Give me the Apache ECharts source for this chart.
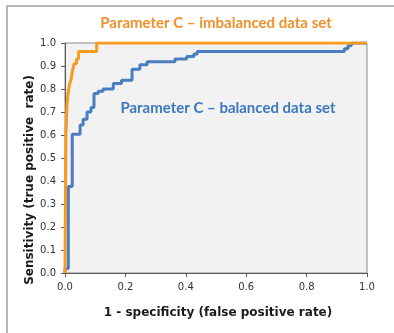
<!DOCTYPE html>
<html>
<head>
<meta charset="utf-8">
<script src="https://cdn.jsdelivr.net/npm/echarts@6/dist/echarts.min.js"></script>
<style>
  html, body { margin: 0; padding: 0; background: #fff; }
  #main { width: 394px; height: 333px; }
</style>
</head>
<body>
<div id="main"></div>
<script>
// ROC points (fpr, tpr) - right end of each horizontal run
var imbalancedFpr = [0, 0.003, 0.006, 0.010, 0.015, 0.020, 0.025, 0.030, 0.038, 0.045, 0.105, 1.0];
var imbalancedTpr = [0, 0.03, 0.60, 0.72, 0.78, 0.82, 0.84, 0.88, 0.91, 0.93, 0.963, 1.0];

var balancedFpr = [0, 0.011, 0.024, 0.050, 0.060, 0.073, 0.086, 0.096, 0.110, 0.126, 0.160, 0.187, 0.222, 0.248, 0.272, 0.364, 0.403, 0.427, 0.438, 0.925, 0.937, 0.948, 1.0];
var balancedTpr = [0, 0.02, 0.376, 0.603, 0.643, 0.668, 0.70, 0.72, 0.78, 0.79, 0.80, 0.824, 0.838, 0.886, 0.905, 0.919, 0.93, 0.941, 0.952, 0.963, 0.975, 0.988, 1.0];

var titleText = 'Parameter C \u2013 imbalanced data set';
var labelText = 'Parameter C \u2013 balanced data set';

function pairs(xs, ys) {
  var out = [];
  for (var i = 0; i < xs.length; i++) out.push([xs[i], ys[i]]);
  return out;
}

var chart = echarts.init(document.getElementById('main'));

var option = {
  animation: false,
  backgroundColor: '#fff',
  grid: {
    left: 65, right: 27, top: 43, bottom: 60,
    show: true,
    backgroundColor: '#f2f2f2',
    borderColor: '#8c8c8c',
    borderWidth: 1
  },
  xAxis: {
    type: 'value',
    min: 0, max: 1, interval: 0.2,
    axisLine: { show: true, lineStyle: { color: '#595959', width: 1 } },
    axisTick: { show: true, length: 4, lineStyle: { color: '#595959' } },
    splitLine: { show: false },
    axisLabel: {
      margin: 9,
      color: '#333',
      fontFamily: 'DejaVu Sans',
      fontSize: 10,
      formatter: function(v) { return v.toFixed(1); }
    }
  },
  yAxis: {
    type: 'value',
    min: 0, max: 1, interval: 0.1,
    axisLine: { show: true, lineStyle: { color: '#595959', width: 1 } },
    axisTick: { show: true, length: 4, lineStyle: { color: '#595959' } },
    splitLine: { show: false },
    axisLabel: {
      margin: 9,
      color: '#333',
      fontFamily: 'DejaVu Sans',
      fontSize: 10,
      formatter: function(v) { return v.toFixed(1); }
    }
  },
  series: [
    {
      name: 'balanced',
      type: 'line',
      step: 'start',
      showSymbol: false,
      data: pairs(balancedFpr, balancedTpr),
      lineStyle: { color: '#4a7ec0', width: 3 },
      z: 3
    },
    {
      name: 'imbalanced',
      type: 'line',
      step: 'start',
      showSymbol: false,
      data: pairs(imbalancedFpr, imbalancedTpr),
      lineStyle: { color: '#f79a1e', width: 3 },
      z: 4
    }
  ],
  graphic: [
    {
      type: 'rect',
      shape: { x: 7, y: 6, width: 420, height: 400 },
      style: { fill: 'none', stroke: '#a0a0a0', lineWidth: 1.5 },
      silent: true
    },
    {
      type: 'text',
      x: 216, y: 23,
      style: {
        text: titleText,
        fill: '#f0902a',
        font: 'bold 15px Lato',
        align: 'center',
        verticalAlign: 'middle'
      }
    },
    {
      type: 'text',
      x: 228, y: 108,
      style: {
        text: labelText,
        fill: '#3b78c0',
        font: 'bold 15px Lato',
        align: 'center',
        verticalAlign: 'middle'
      }
    },
    {
      type: 'text',
      x: 30, y: 180,
      rotation: Math.PI / 2,
      style: {
        text: 'Sensitivity (true positive  rate)',
        fill: '#1a1a1a',
        font: 'bold 12px "DejaVu Sans"',
        align: 'center',
        verticalAlign: 'middle'
      }
    },
    {
      type: 'text',
      x: 218, y: 313,
      style: {
        text: '1 - specificity (false positive rate)',
        fill: '#1a1a1a',
        font: 'bold 12px "DejaVu Sans"',
        align: 'center',
        verticalAlign: 'middle'
      }
    }
  ]
};

chart.setOption(option);
</script>
</body>
</html>
